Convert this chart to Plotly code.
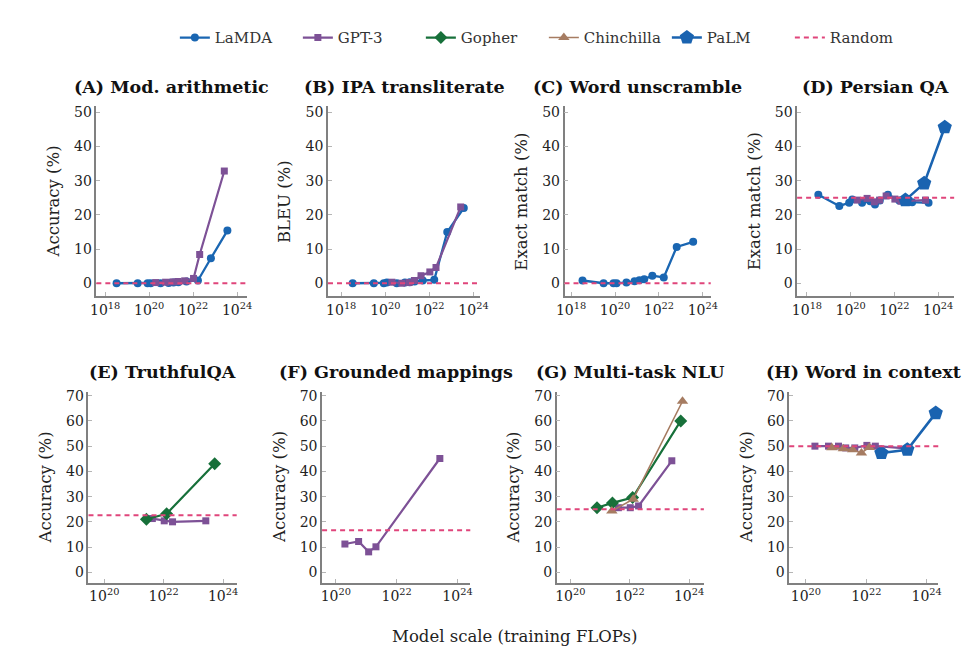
import plotly.graph_objects as go

W, H = 971, 666

# ---------------- data (x = log10 of training FLOPs) ----------------
lamda_flops = [18.52, 19.48, 19.93, 20.07, 20.52, 20.89, 21.11, 21.33, 21.70, 22.22, 22.81, 23.56]
gpt3_flops = [20.30, 20.75, 21.08, 21.32, 21.62, 22.02, 22.30, 23.42]
gpt3_flops_large = [21.62, 22.02, 22.30, 23.42]
gpt3_flops_f = [20.30, 20.75, 21.08, 21.32, 23.42]
gopher_flops = [20.90, 21.42, 22.10, 23.72]
gopher_flops_e = [21.42, 22.10, 23.72]
chinchilla_flops_g = [21.40, 22.12, 23.78]
chinchilla_flops_h = [20.86, 21.24, 21.55, 21.84, 22.10]
palm_flops = [22.50, 23.36, 24.30]

# (A) Mod. arithmetic
a_lamda = [0, 0, 0, 0, 0, 0.1, 0.2, 0.3, 0.5, 0.8, 7.3, 15.4]
a_gpt3 = [0.2, 0.3, 0.4, 0.5, 0.7, 1.4, 8.4, 32.8]
# (B) IPA transliterate
b_lamda = [0, 0, 0, 0.2, 0, 0.2, 0.3, 0.5, 0.8, 1.0, 15.0, 22.0]
b_gpt3 = [0.3, 0, 0.2, 0.8, 2.2, 3.3, 4.6, 22.3]
# (C) Word unscramble
c_lamda = [0.8, 0, 0, 0, 0.2, 0.6, 0.9, 1.2, 2.2, 1.7, 10.6, 12.1]
# (D) Persian QA
d_lamda = [25.9, 22.6, 23.5, 24.5, 23.5, 24.0, 23.0, 24.2, 25.9, 24.2, 23.7, 23.5]
d_gpt3 = [24.3, 24.8, 23.8, 24.3, 25.5, 24.6, 24.0, 24.3]
d_palm = [24.3, 29.2, 45.6]
# (E) TruthfulQA
e_gpt3 = [21.3, 20.4, 20.0, 20.4]
e_gopher = [21.0, 23.2, 43.0]
# (F) Grounded mappings
f_gpt3 = [11.2, 12.2, 8.1, 10.1, 45.1]
# (G) Multi-task NLU
g_gpt3 = [25.6, 25.6, 26.3, 44.2]
g_gopher = [25.6, 27.5, 29.6, 60.0]
g_chinchilla = [24.3, 29.0, 67.8]
# (H) Word in context
h_gpt3 = [50.0, 50.0, 50.0, 49.3, 49.3, 50.3, 50.0, 49.0]
h_chinchilla = [49.4, 49.0, 48.6, 47.3, 49.5]
h_palm = [47.3, 48.6, 63.1]

random_baseline = [0, 0, 0, 25, 22.6, 16.7, 25, 50]

panel_titles = ["(A) Mod. arithmetic", "(B) IPA transliterate", "(C) Word unscramble",
                "(D) Persian QA", "(E) TruthfulQA", "(F) Grounded mappings",
                "(G) Multi-task NLU", "(H) Word in context"]
y_titles = ["Accuracy (%)", "BLEU (%)", "Exact match (%)", "Exact match (%)",
            "Accuracy (%)", "Accuracy (%)", "Accuracy (%)", "Accuracy (%)"]

top_xticks = [18, 20, 22, 24]
bottom_xticks = [20, 22, 24]
top_yticks = [0, 10, 20, 30, 40, 50]
bottom_yticks = [0, 10, 20, 30, 40, 50, 60, 70]

# ---------------- styles ----------------
FONT = "DejaVu Serif"
C_LAMDA = "#1a66b2"
C_GPT3 = "#7d5196"
C_GOPHER = "#17703a"
C_CHIN = "#a67c62"
C_PALM = "#1a63b0"
C_RANDOM = "#e0457b"

styles = {
    "LaMDA": dict(color=C_LAMDA, symbol="circle", size=8, width=2.3, rank=1),
    "GPT-3": dict(color=C_GPT3, symbol="square", size=7, width=2.2, rank=2),
    "Gopher": dict(color=C_GOPHER, symbol="diamond", size=10, width=2.2, rank=3),
    "Chinchilla": dict(color=C_CHIN, symbol="triangle-up", size=10, width=1.6, rank=4),
    "PaLM": dict(color=C_PALM, symbol="pentagon", size=15, width=2.6, rank=5),
}

# pixel geometry of the panels (left, right) and rows (top, bottom)
top_px = [(89, 242), (325, 480), (566, 715), (803, 963)]
bot_px = [(81, 232), (319, 470), (558, 708), (795, 947)]
top_xrange = [[17.6, 24.43], [17.4, 24.3], [17.7, 24.36], [17.55, 24.73]]
bot_xrange = [[19.47, 24.46], [19.55, 24.42], [19.54, 24.5], [19.45, 24.39]]
row_top = (103, 294)
row_bot = (390, 582)
top_yrange = [-3.8, 51.7]
bot_yrange = [-4.05, 71.6]

fig = go.Figure()
shown = set()


def add_series(panel, name, xs, ys):
    st = styles[name]
    show = name not in shown
    shown.add(name)
    sfx = "" if panel == 0 else str(panel + 1)
    fig.add_trace(go.Scatter(
        x=[10.0 ** v for v in xs], y=ys, mode="lines+markers", name=name,
        legendgroup=name, showlegend=show, legendrank=st["rank"],
        line=dict(color=st["color"], width=st["width"]),
        marker=dict(color=st["color"], symbol=st["symbol"], size=st["size"],
                    line=dict(width=0)),
        xaxis="x" + sfx, yaxis="y" + sfx, cliponaxis=False,
    ))


add_series(0, "LaMDA", lamda_flops, a_lamda)
add_series(0, "GPT-3", gpt3_flops, a_gpt3)
add_series(1, "LaMDA", lamda_flops, b_lamda)
add_series(1, "GPT-3", gpt3_flops, b_gpt3)
add_series(2, "LaMDA", lamda_flops, c_lamda)
add_series(3, "LaMDA", lamda_flops, d_lamda)
add_series(3, "GPT-3", gpt3_flops, d_gpt3)
add_series(3, "PaLM", palm_flops, d_palm)
add_series(4, "GPT-3", gpt3_flops_large, e_gpt3)
add_series(4, "Gopher", gopher_flops_e, e_gopher)
add_series(5, "GPT-3", gpt3_flops_f, f_gpt3)
add_series(6, "GPT-3", gpt3_flops_large, g_gpt3)
add_series(6, "Gopher", gopher_flops, g_gopher)
add_series(6, "Chinchilla", chinchilla_flops_g, g_chinchilla)
add_series(7, "GPT-3", gpt3_flops, h_gpt3)
add_series(7, "Chinchilla", chinchilla_flops_h, h_chinchilla)
add_series(7, "PaLM", palm_flops, h_palm)

# legend entry for the random baseline
fig.add_trace(go.Scatter(x=[None], y=[None], mode="lines", name="Random",
                         legendrank=6, line=dict(color=C_RANDOM, width=2, dash="5px,4px"),
                         xaxis="x", yaxis="y"))

layout = dict(
    width=W, height=H, margin=dict(l=0, r=0, t=0, b=0),
    paper_bgcolor="white", plot_bgcolor="white",
    font=dict(family=FONT, color="#222222"),
    showlegend=True,
    legend=dict(orientation="h", x=169 / W, xanchor="left", y=1 - 34 / H,
                yanchor="middle", font=dict(family=FONT, size=15, color="#333333"),
                bgcolor="rgba(0,0,0,0)", itemwidth=30, traceorder="normal",
                entrywidth=78, entrywidthmode="pixels"),
)

annotations = []
shapes = []
for i in range(8):
    sfx = "" if i == 0 else str(i + 1)
    top = i < 4
    (l, r) = top_px[i] if top else bot_px[i - 4]
    (t, b) = row_top if top else row_bot
    xr = top_xrange[i] if top else bot_xrange[i - 4]
    xt = top_xticks if top else bottom_xticks
    yt = top_yticks if top else bottom_yticks
    layout["xaxis" + sfx] = dict(
        type="log", domain=[l / W, r / W], range=xr, anchor="y" + sfx,
        showline=True, linecolor="#808080", linewidth=1.5,
        ticks="inside", ticklen=4, tickcolor="#b5b5b5", tickwidth=1,
        tickvals=[10.0 ** v for v in xt],
        ticktext=["10<sup>%d</sup>" % v for v in xt],
        showgrid=False, zeroline=False,
        tickfont=dict(family=FONT, size=14, color="#222222"), fixedrange=True,
    )
    layout["yaxis" + sfx] = dict(
        domain=[1 - b / H, 1 - t / H], range=top_yrange if top else bot_yrange,
        anchor="x" + sfx, showline=True, linecolor="#808080", linewidth=1.5,
        ticks="inside", ticklen=4, tickcolor="#b5b5b5", tickwidth=1,
        tickvals=yt, showgrid=False, zeroline=False,
        tickfont=dict(family=FONT, size=14, color="#222222"), fixedrange=True,
    )
    # panel title
    annotations.append(dict(
        text="<b>%s</b>" % panel_titles[i], x=(l + r) / 2 / W,
        y=1 - ((84 if top else 370) / H), xref="paper", yref="paper",
        xanchor="center", yanchor="middle", showarrow=False,
        font=dict(family=FONT, size=17.5, color="#111111")))
    # y-axis title
    annotations.append(dict(
        text=y_titles[i], x=(l - 44) / W, y=1 - ((t + b) / 2) / H,
        xref="paper", yref="paper", xanchor="center", yanchor="middle",
        textangle=-90, showarrow=False,
        font=dict(family=FONT, size=16.5, color="#222222")))
    # random baseline
    shapes.append(dict(
        type="line", xref="x%s domain" % sfx, yref="y" + sfx, x0=0, x1=1,
        y0=random_baseline[i], y1=random_baseline[i], layer="above",
        line=dict(color=C_RANDOM, width=2, dash="5px,4px")))

annotations.append(dict(
    text="Model scale (training FLOPs)", x=515 / W, y=1 - 636 / H,
    xref="paper", yref="paper", xanchor="center", yanchor="middle",
    showarrow=False, font=dict(family=FONT, size=16.5, color="#222222")))

layout["annotations"] = annotations
layout["shapes"] = shapes
fig.update_layout(**layout)

fig.write_html("out.html", config={"displayModeBar": False},
               post_script="document.body.style.margin='0px';")
